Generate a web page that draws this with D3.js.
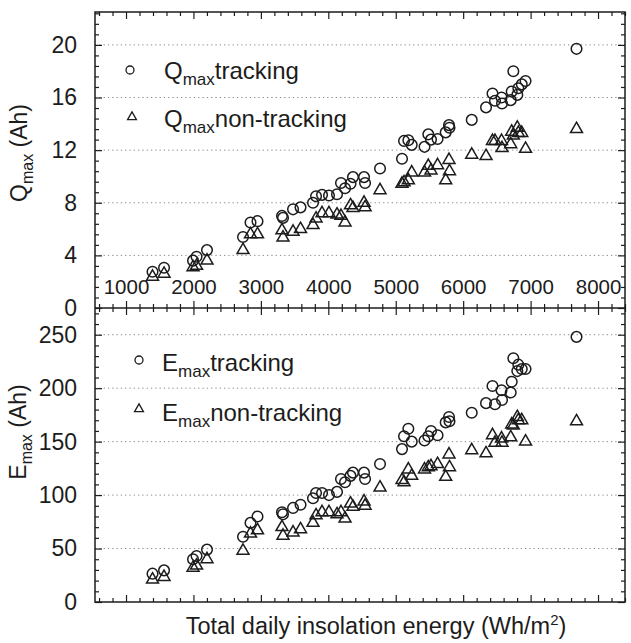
<!DOCTYPE html>
<html>
<head>
<meta charset="utf-8">
<script src="https://cdn.jsdelivr.net/npm/d3@7"></script>
<style>
  body { margin: 0; background: #fff; }
  svg { font-family: "Liberation Sans", Arial, Helvetica, sans-serif; }
</style>
</head>
<body>
<script>
// ------- données -------
var insolation = [1393, 1564, 1994, 2046, 2201, 2735, 2846, 2950, 3313, 3328,
  3477, 3588, 3773, 3818, 3907, 4010, 4129, 4188, 4248, 4329,
  4366, 4530, 4545, 4767, 5093, 5123, 5187, 5237, 5427, 5483,
  5523, 5620, 5741, 5790, 5797, 6127, 6339, 6435, 6472, 6569,
  6576, 6705, 6720, 6744, 6803, 6818, 6869, 6925, 7681];
var qTracking = [2.76, 3.06, 3.6, 3.9, 4.4, 5.4, 6.5, 6.6, 7.0, 6.85,
  7.5, 7.65, 8.0, 8.5, 8.6, 8.55, 8.65, 9.5, 9.1, 9.45,
  9.95, 9.95, 9.5, 10.6, 11.35, 12.7, 12.75, 12.4, 12.25, 13.2,
  12.8, 12.85, 13.35, 13.9, 13.7, 14.3, 15.25, 16.3, 15.75, 16.0,
  15.55, 15.8, 16.45, 18.0, 16.2, 16.7, 17.0, 17.25, 19.7];
var qNonTracking = [2.38, 2.6, 3.1, 3.2, 3.6, 4.4, 5.6, 5.6, 5.9, 5.35,
  5.8, 6.0, 6.3, 6.8, 7.2, 7.2, 7.1, 7.0, 6.5, 7.8,
  7.6, 8.0, 7.65, 8.95, 9.45, 9.55, 9.7, 10.3, 10.3, 10.8,
  10.45, 10.85, 9.7, 11.25, 10.4, 11.65, 11.55, 12.7, 12.7, 12.7,
  12.15, 12.45, 13.4, 13.1, 13.7, 13.3, 13.3, 12.1, 13.6];
var eTracking = [26.5, 29.6, 40, 43, 49, 61, 74, 80, 84, 82,
  88, 91, 97, 102, 102, 100, 103, 115, 112, 118,
  121, 121, 115, 129, 143, 155, 162, 150, 151, 155,
  160, 156, 168, 173, 169, 177, 186, 202, 185, 198,
  189, 196, 206, 228, 216, 222, 218, 218, 248];
var eNonTracking = [21, 23.4, 32, 34, 40, 48, 64, 67, 70, 62,
  65, 68, 74, 81, 84, 84, 82, 84, 78, 92,
  89, 94, 90, 107, 114, 112, 124, 118, 124, 126,
  127, 129, 117, 138, 126, 142, 139, 156, 149, 153,
  149, 154, 166, 165, 173, 170, 170, 150, 169];

var xTicks = [1000, 2000, 3000, 4000, 5000, 6000, 7000, 8000];
var qTicks = [0, 4, 8, 12, 16, 20];
var eTicks = [0, 50, 100, 150, 200, 250];

// ------- dimensions -------
var width = 631, height = 643;
var left = 95, right = 625, topY = 12, mid = 308, bottomY = 602;
var ink = "#1c1c1c";

var svg = d3.select("body").append("svg")
  .attr("width", width)
  .attr("height", height);

var x = d3.scaleLinear().domain([540, 8400]).range([left, right]);
var yQ = d3.scaleLinear().domain([0, 22.5]).range([mid, topY]);
var yE = d3.scaleLinear().domain([0, 275]).range([bottomY, mid]);

function minorTicks(major, step, lo, hi) {
  var out = [];
  for (var v = lo; v <= hi + 1e-9; v += step) {
    var r = Math.round(v * 1000) / 1000;
    if (major.indexOf(r) < 0) out.push(r);
  }
  return out;
}

// grilles pointillées
function grid(yscale, ticks) {
  svg.append("g").selectAll("line")
    .data(ticks.filter(d => d > 0))
    .enter().append("line")
    .attr("x1", left).attr("x2", right)
    .attr("y1", d => yscale(d)).attr("y2", d => yscale(d))
    .attr("stroke", "#8a8a8a")
    .attr("stroke-width", 1)
    .attr("stroke-dasharray", "1.3,3");
}
grid(yQ, qTicks);
grid(yE, eTicks);

// axes : graduations intérieures
function styleAxis(g) {
  g.select(".domain").remove();
  g.selectAll(".tick line").attr("stroke", ink).attr("stroke-width", 1.2);
}
var xMinor = minorTicks(xTicks, 200, 600, 8400);

function xEdge(y, dir, labels) {
  var maj = (dir < 0 ? d3.axisTop(x) : d3.axisBottom(x))
    .tickValues(xTicks).tickSize(7).tickPadding(7).tickFormat(d3.format("d"));
  if (!labels) maj.tickFormat("");
  var g = svg.append("g").attr("transform", "translate(0," + y + ")").call(maj);
  styleAxis(g);
  g.selectAll("text").attr("font-size", 20.5).attr("fill", ink);
  var mn = (dir < 0 ? d3.axisTop(x) : d3.axisBottom(x))
    .tickValues(xMinor).tickSize(4).tickFormat("");
  styleAxis(svg.append("g").attr("transform", "translate(0," + y + ")").call(mn));
}
xEdge(topY, 1, false);
xEdge(mid, -1, true);
xEdge(mid, 1, false);
xEdge(bottomY, -1, false);

function yEdges(yscale, ticks, step, hi) {
  var mnv = minorTicks(ticks, step, 0, hi);
  var gl = svg.append("g").attr("transform", "translate(" + left + ",0)")
    .call(d3.axisLeft(yscale).tickValues(ticks).tickSize(-7).tickPadding(18));
  styleAxis(gl);
  gl.selectAll("text").attr("font-size", 23).attr("fill", ink);
  styleAxis(svg.append("g").attr("transform", "translate(" + left + ",0)")
    .call(d3.axisLeft(yscale).tickValues(mnv).tickSize(-4).tickFormat("")));
  styleAxis(svg.append("g").attr("transform", "translate(" + right + ",0)")
    .call(d3.axisRight(yscale).tickValues(ticks).tickSize(-7).tickFormat("")));
  styleAxis(svg.append("g").attr("transform", "translate(" + right + ",0)")
    .call(d3.axisRight(yscale).tickValues(mnv).tickSize(-4).tickFormat("")));
}
yEdges(yQ, qTicks, 0.8, 22.4);
yEdges(yE, eTicks, 10, 270);

// cadre
svg.append("rect")
  .attr("x", left).attr("y", topY)
  .attr("width", right - left).attr("height", bottomY - topY)
  .attr("fill", "none").attr("stroke", ink).attr("stroke-width", 1.5);
svg.append("line")
  .attr("x1", left).attr("x2", right).attr("y1", mid).attr("y2", mid)
  .attr("stroke", ink).attr("stroke-width", 1.5);

// points
var tri = d3.symbol().type(d3.symbolTriangle).size(62);
var triSmall = d3.symbol().type(d3.symbolTriangle).size(34);

function drawSeries(yscale, values, kind) {
  var g = svg.append("g");
  var pts = insolation.map((v, i) => ({ x: v, y: values[i] }));
  if (kind == "circle") {
    g.selectAll("circle").data(pts).enter().append("circle")
      .attr("cx", d => x(d.x)).attr("cy", d => yscale(d.y))
      .attr("r", 5.3)
      .attr("fill", "none").attr("stroke", ink).attr("stroke-width", 1.5);
  } else {
    g.selectAll("path").data(pts).enter().append("path")
      .attr("d", tri)
      .attr("transform", d => "translate(" + x(d.x) + "," + yscale(d.y) + ")")
      .attr("fill", "none").attr("stroke", ink).attr("stroke-width", 1.5);
  }
}
drawSeries(yQ, qTracking, "circle");
drawSeries(yQ, qNonTracking, "triangle");
drawSeries(yE, eTracking, "circle");
drawSeries(yE, eNonTracking, "triangle");

// légendes
function legendEntry(mx, my, tx, ty, letter, label, kind) {
  if (kind == "circle") {
    svg.append("circle").attr("cx", mx).attr("cy", my).attr("r", 4)
      .attr("fill", "none").attr("stroke", ink).attr("stroke-width", 1.3);
  } else {
    svg.append("path").attr("d", triSmall)
      .attr("transform", "translate(" + mx + "," + my + ")")
      .attr("fill", "none").attr("stroke", ink).attr("stroke-width", 1.3);
  }
  var t = svg.append("text").attr("x", tx).attr("y", ty)
    .attr("font-size", 24).attr("fill", ink);
  t.append("tspan").text(letter);
  t.append("tspan").attr("dy", 6).attr("font-size", 17).text("max");
  t.append("tspan").attr("dy", -6).text(label);
}
legendEntry(130, 70, 164, 79, "Q", "tracking", "circle");
legendEntry(132, 117, 164, 127, "Q", "non-tracking", "triangle");
legendEntry(139, 360, 162, 371, "E", "tracking", "circle");
legendEntry(139, 409, 162, 421, "E", "non-tracking", "triangle");

// titres des axes
function yTitle(cx, cy, letter) {
  var t = svg.append("text")
    .attr("transform", "translate(" + cx + "," + cy + ") rotate(-90)")
    .attr("text-anchor", "middle").attr("font-size", 23).attr("fill", ink);
  t.append("tspan").text(letter);
  t.append("tspan").attr("dy", 6).attr("font-size", 16).text("max");
  t.append("tspan").attr("dy", -6).text(" (Ah)");
}
yTitle(27, 153, "Q");
yTitle(26, 432, "E");

var xt = svg.append("text")
  .attr("x", 376).attr("y", 634)
  .attr("text-anchor", "middle").attr("font-size", 23.5).attr("fill", ink);
xt.append("tspan").text("Total daily insolation energy (Wh/m");
xt.append("tspan").attr("dy", -9).attr("font-size", 15).text("2");
xt.append("tspan").attr("dy", 9).text(")");
</script>
</body>
</html>
